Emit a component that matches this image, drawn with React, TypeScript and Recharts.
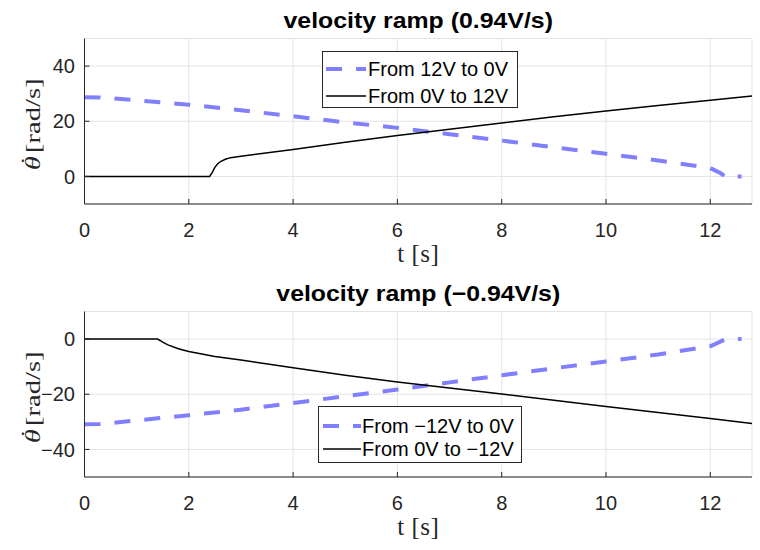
import React from 'react'
import { CartesianGrid, Line, LineChart, XAxis, YAxis } from 'recharts'

// shared time axis
const xTicks = [0, 2, 4, 6, 8, 10, 12]
const xDomain = [0, 12.8]

// upper panel: +0.94 V/s ramp
const upTitle = 'velocity ramp (0.94V/s)'
const upYTicks = [0, 20, 40]
const upYDomain = [-10, 50]
const upDashName = 'From 12V to 0V'
const upDashT = [0, 0.3, 1, 2, 3, 4, 5, 6, 7, 8, 9, 10, 11, 12, 12.2, 12.3, 12.4, 12.6]
const upDashV = [28.7, 28.6, 27.6, 26, 24, 21.8, 19.6, 17.6, 15.3, 13, 10.6, 8.2, 5.8, 3, 1.2, -0.3, 0, 0]
const upSolidName = 'From 0V to 12V'
const upSolidT = [0, 2.4, 2.45, 2.5, 2.55, 2.6, 2.7, 2.8, 3, 4, 5, 6, 7, 8, 9, 10, 11, 12, 12.8]
const upSolidV = [0, 0, 1.5, 3.3, 4.5, 5.3, 6.2, 6.8, 7.3, 9.8, 12.4, 14.8, 17.1, 19.4, 21.6, 23.7, 25.7, 27.6, 29.2]

// lower panel: -0.94 V/s ramp
const downTitle = 'velocity ramp (\u22120.94V/s)'
const downYTicks = [-40, -20, 0]
const downYDomain = [-50, 10]
const downDashName = 'From \u221212V to 0V'
const downDashT = [0, 0.3, 1, 2, 3, 4, 5, 6, 7, 8, 9, 10, 11, 12, 12.3, 12.6]
const downDashV = [-30.9, -30.8, -29.5, -27.6, -25.6, -23.2, -20.7, -18.3, -15.7, -13.1, -10.6, -8.1, -5.6, -2.6, 0, 0]
const downSolidName = 'From 0V to \u221212V'
const downSolidT = [0, 1.4, 1.45, 1.5, 1.6, 1.8, 2, 2.5, 3, 4, 5, 6, 7, 8, 9, 10, 11, 12, 12.8]
const downSolidV = [0, 0, -0.5, -1.1, -2.1, -3.5, -4.5, -6.3, -7.6, -10.4, -13.1, -15.6, -17.7, -19.9, -22.2, -24.4, -26.6, -28.8, -30.6]

const AXIS = '#262626'
const GRID = '#e3e3e3'
const BLUE = '#8080ff'
const DASH = '16 14'
const SANS = '"Liberation Sans", Arial, Helvetica, sans-serif'
const SERIF = '"Liberation Serif", "Times New Roman", serif'

const W = 760
const H = 275
const PLOT_TOP = 38.5
const PLOT_LEFT = 84.5
const PLOT_RIGHT = 752
const PLOT_BOTTOM = 204

const zip = (t: number[], v: number[]) => t.map((x, i) => ({ t: x, v: v[i] }))
const fmt = (v: number) => String(v).replace('-', '\u2212')

interface LegendLayout {
  left: number
  top: number
  width: number
  rows: number[]
  sampleLeft: number
  sampleWidth: number
  textLeft: number
}

interface PanelProps {
  title: string
  yTicks: number[]
  yDomain: number[]
  dashName: string
  dash: { t: number; v: number }[]
  solidName: string
  solid: { t: number; v: number }[]
  legend: LegendLayout
}

function Panel({ title, yTicks, yDomain, dashName, dash, solidName, solid, legend }: PanelProps) {
  const tickStyle = { fill: AXIS, fontSize: 20, fontFamily: SANS }
  const midX = (PLOT_LEFT + PLOT_RIGHT) / 2
  const labelY = (PLOT_TOP + PLOT_BOTTOM) / 2 + 2.5
  return (
    <div style={{ position: 'relative', width: W, height: H }}>
      <LineChart width={W} height={H} margin={{ top: PLOT_TOP, right: W - PLOT_RIGHT, bottom: 0, left: 0 }}>
        <CartesianGrid stroke={GRID} strokeWidth={1} />
        <XAxis
          type='number'
          dataKey='t'
          domain={xDomain}
          ticks={xTicks}
          allowDataOverflow
          height={H - PLOT_BOTTOM}
          stroke={AXIS}
          tickSize={-5}
          tickMargin={23.5}
          tick={tickStyle}
        />
        <XAxis
          xAxisId='top'
          orientation='top'
          type='number'
          domain={xDomain}
          ticks={xTicks}
          allowDataOverflow
          height={0}
          mirror
          stroke={AXIS}
          tickSize={5}
          tick={false}
        />
        <YAxis
          type='number'
          domain={yDomain}
          ticks={yTicks}
          allowDataOverflow
          width={PLOT_LEFT}
          stroke={AXIS}
          tickSize={-5}
          tickMargin={14.5}
          tick={tickStyle}
          tickFormatter={fmt}
        />
        <YAxis
          yAxisId='right'
          orientation='right'
          type='number'
          domain={yDomain}
          ticks={yTicks}
          allowDataOverflow
          width={0}
          mirror
          stroke={AXIS}
          tickSize={5}
          tick={false}
        />
        <Line
          data={dash}
          dataKey='v'
          name={dashName}
          type='linear'
          stroke={BLUE}
          strokeWidth={4}
          strokeDasharray={DASH}
          dot={false}
          isAnimationActive={false}
        />
        <Line
          data={solid}
          dataKey='v'
          name={solidName}
          type='linear'
          stroke='#000000'
          strokeWidth={1.5}
          dot={false}
          isAnimationActive={false}
        />
      </LineChart>

      <svg width={W} height={H} style={{ position: 'absolute', left: 0, top: 0, pointerEvents: 'none' }}>
        <g transform={`translate(${midX} 28.3) scale(1.13 1)`}>
          <text x={0} y={0} textAnchor='middle' fontFamily={SANS} fontWeight='bold' fontSize={22} fill='#000'>
            {title}
          </text>
        </g>
        <text x={midX} y={262} textAnchor='middle' fontFamily={SERIF} fontSize={25} letterSpacing={0.5} fill={AXIS}>
          t [s]
        </text>
        {/* y label, stretched along its length like the reference */}
        <g transform={`translate(40 ${labelY}) rotate(-90) scale(1.3 1)`}>
          <text x={-35.8} y={0} fontFamily={SERIF} fontStyle='italic' fontSize={22} fill={AXIS}>
            {'\u03B8'}
          </text>
          <text x={-28.5} y={-4} textAnchor='middle' fontFamily={SERIF} fontSize={22} fill={AXIS}>
            {'\u02D9'}
          </text>
          <text x={-22.5} y={0} fontFamily={SERIF} fontSize={22} fill={AXIS}>
            [rad/s]
          </text>
        </g>
      </svg>

      <div
        style={{
          position: 'absolute',
          left: legend.left,
          top: legend.top,
          width: legend.width,
          height: 57,
          boxSizing: 'border-box',
          border: `1px solid ${AXIS}`,
          background: '#fff',
          fontFamily: SANS,
          fontSize: 20,
          color: '#000',
        }}
      >
        {[
          { name: dashName, color: BLUE, width: 4, dash: DASH },
          { name: solidName, color: '#000', width: 1.5, dash: undefined },
        ].map((row, i) => (
          <div key={row.name} style={{ position: 'absolute', left: 0, top: legend.rows[i] - 10, height: 20, width: '100%' }}>
            <svg width={legend.sampleWidth} height={20} style={{ position: 'absolute', left: legend.sampleLeft, top: 0 }}>
              <line x1={0} y1={10} x2={legend.sampleWidth} y2={10} stroke={row.color} strokeWidth={row.width} strokeDasharray={row.dash} />
            </svg>
            <span style={{ position: 'absolute', left: legend.textLeft, top: 0, lineHeight: '20px', whiteSpace: 'nowrap' }}>
              {row.name}
            </span>
          </div>
        ))}
      </div>
    </div>
  )
}

export default function App() {
  return (
    <div style={{ position: 'absolute', left: 0, top: 0, width: 760, height: 550, background: '#fff', overflow: 'hidden' }}>
      <div style={{ position: 'absolute', left: 0, top: 0 }}>
        <Panel
          title={upTitle}
          yTicks={upYTicks}
          yDomain={upYDomain}
          dashName={upDashName}
          dash={zip(upDashT, upDashV)}
          solidName={upSolidName}
          solid={zip(upSolidT, upSolidV)}
          legend={{ left: 322, top: 51, width: 196, rows: [16.5, 43.5], sampleLeft: 3, sampleWidth: 40, textLeft: 45 }}
        />
      </div>
      <div style={{ position: 'absolute', left: 0, top: 273 }}>
        <Panel
          title={downTitle}
          yTicks={downYTicks}
          yDomain={downYDomain}
          dashName={downDashName}
          dash={zip(downDashT, downDashV)}
          solidName={downSolidName}
          solid={zip(downSolidT, downSolidV)}
          legend={{ left: 318, top: 133, width: 204, rows: [18.5, 41.5], sampleLeft: 4, sampleWidth: 38, textLeft: 43 }}
        />
      </div>
    </div>
  )
}
